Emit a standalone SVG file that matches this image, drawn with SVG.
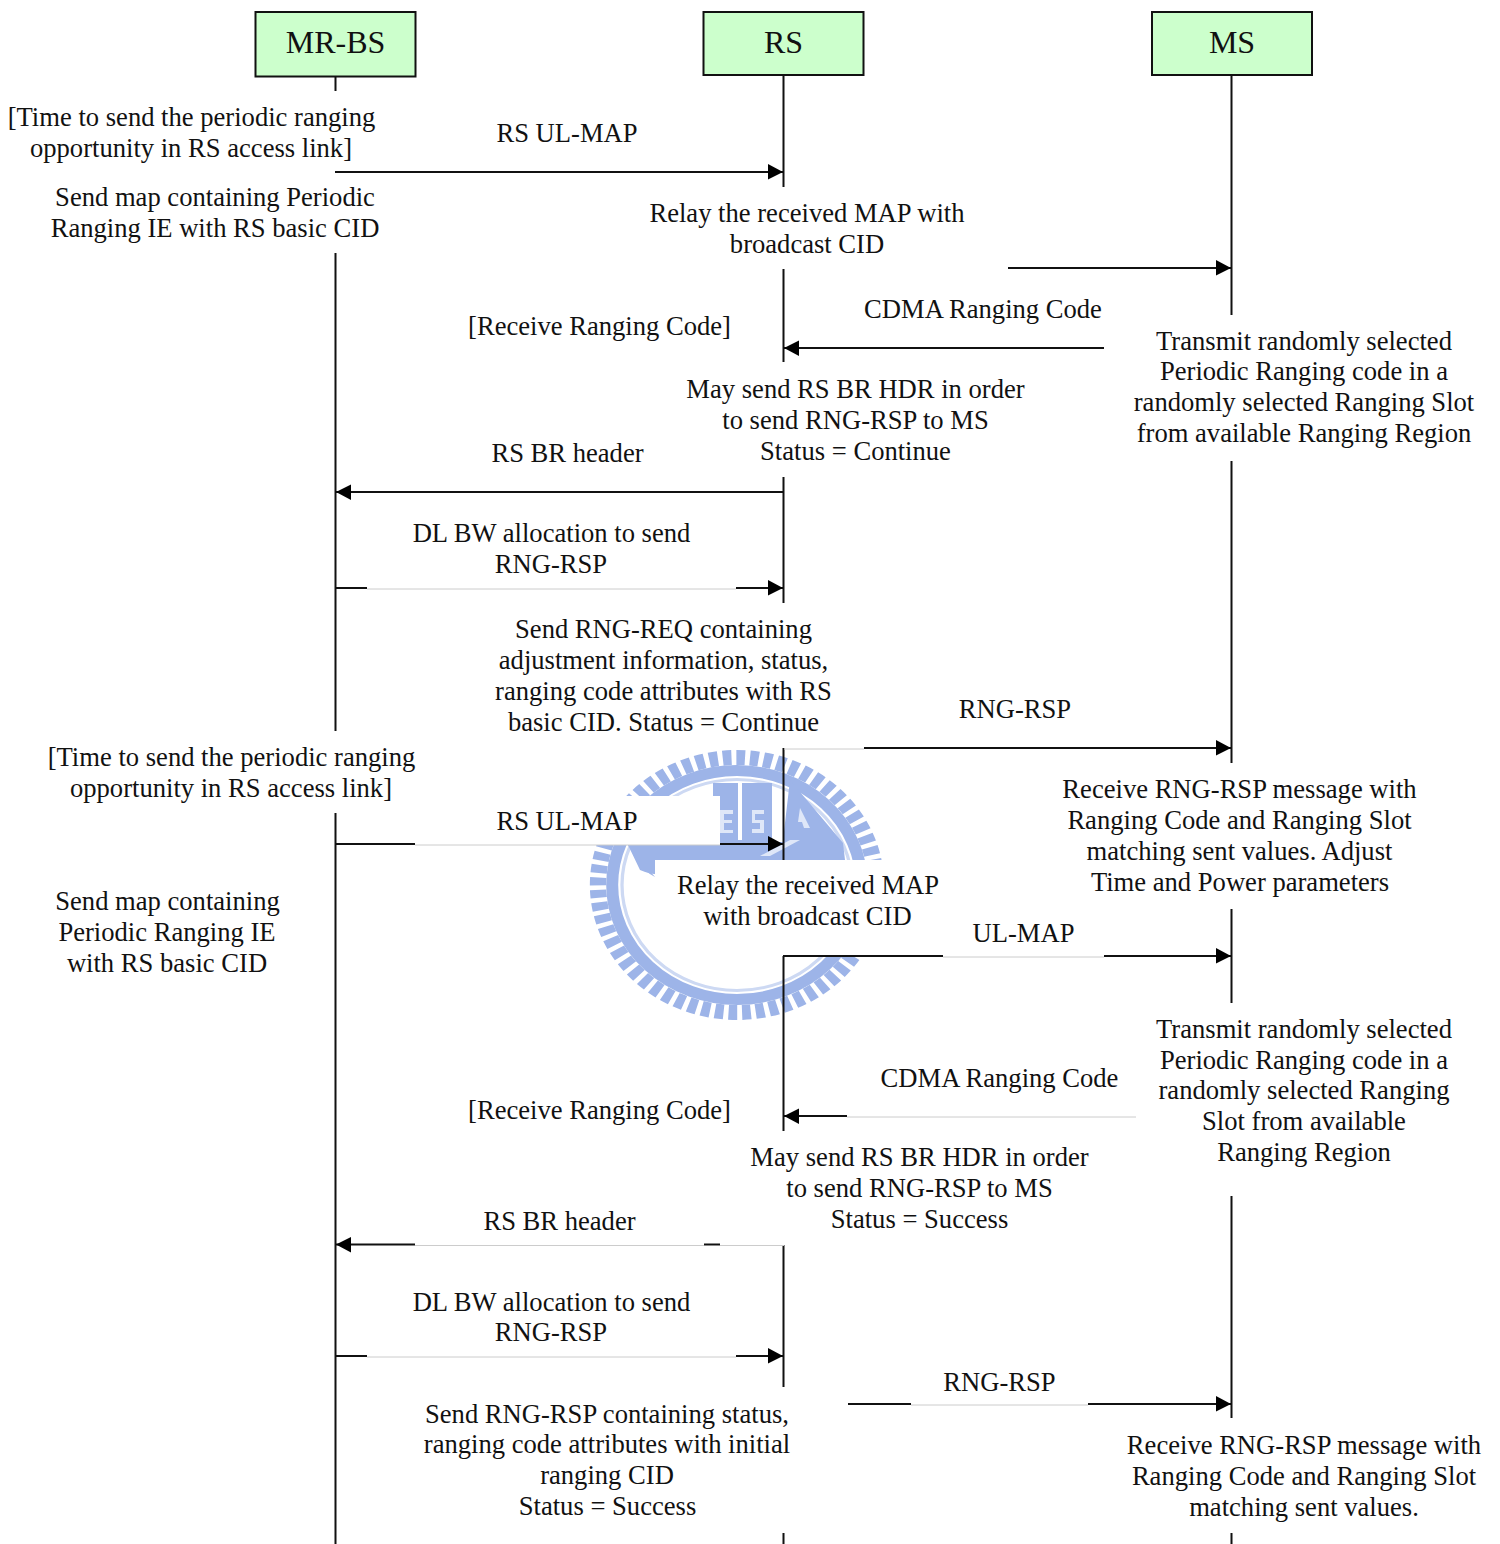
<svg xmlns="http://www.w3.org/2000/svg" width="1500" height="1544" viewBox="0 0 1500 1544">
<style>
text{font-family:"Liberation Serif","Times New Roman",serif;font-size:26.6px;fill:#111;text-anchor:middle}
.h{font-size:32px}
.box{fill:#ccffcc;stroke:#111;stroke-width:2}
.l{stroke:#111;stroke-width:2;fill:none}
.g{stroke:#ccc;stroke-width:1;fill:none}
.w{fill:#fff}
.wm{fill:#9db4e8}
.wl{fill:#dfe7f8}
</style>
<defs>
<marker id="a" markerUnits="userSpaceOnUse" markerWidth="16" markerHeight="16" refX="15" refY="8" orient="auto"><path d="M0 0L15 8L0 15.500z" fill="#000"/></marker>
</defs>
<rect width="1500" height="1544" fill="#fff"/>
<g id="watermark">
<g transform="translate(737 885) scale(1.09 1)">
<circle r="127.500" fill="none" stroke="#9db4e8" stroke-width="15" stroke-dasharray="8 4.500"/>
<circle r="114.500" fill="none" stroke="#9db4e8" stroke-width="11"/>
<circle r="105.500" fill="none" stroke="#cdd9f3" stroke-width="3"/>
</g>
<path class="wm" d="M628 845H713V783H738V840H742V783H772V840H783L790 780L843 843L845 860H640Q644 872 655 877Z"/>
<path class="wm" d="M628 845H800V860H700Q665 882 640 870Z"/>
<path class="wl" d="M720 810h13v4h-9v6h8v3h-8v7h9v3h-13zM752 810h12v4h-9v6h9v13h-12v-4h8v-6h-8z"/>
<path class="w" d="M773 805L784 842H773Z"/>
<path class="wl" d="M790 840H800L770 856H760Z"/>
<path class="wl" d="M800 808L810 828L804 828L802 822L798 822Z"/>
<rect class="w" x="415" y="796" width="305" height="49"/>
<rect class="w" x="655" y="860" width="345" height="96"/>
<rect class="w" x="560" y="700" width="340" height="48.500"/>
</g>
<g id="connectors">
<path class="l" d="M335.500 77V91M335.500 253V731M335.500 813V1544"/>
<path class="l" d="M783.500 75V187M783.500 269V362M783.500 477V603M783.500 748V860M783.500 956V1131M783.500 1245V1387M783.500 1533V1544"/>
<path class="l" d="M1231.500 75V315M1231.500 461V763M1231.500 909V1003M1231.500 1196V1418M1231.500 1533V1544"/>
<path class="l" d="M335 172H783" marker-end="url(#a)"/>
<path class="l" d="M1008 268H1231" marker-end="url(#a)"/>
<path class="l" d="M1104 348H784" marker-end="url(#a)"/>
<path class="l" d="M783 492H336" marker-end="url(#a)"/>
<path class="l" d="M335 588H367"/><path class="g" d="M367 589H736"/><path class="l" d="M736 588H783" marker-end="url(#a)"/>
<path class="g" d="M784 749H864"/><path class="l" d="M864 748H1231" marker-end="url(#a)"/>
<path class="l" d="M335 844H415"/><path class="g" d="M415 845H720"/><path class="l" d="M720 844H783" marker-end="url(#a)"/>
<path class="l" d="M783 956H943"/><path class="g" d="M943 957H1104"/><path class="l" d="M1104 956H1231" marker-end="url(#a)"/>
<path class="g" d="M847 1117H1136"/><path class="l" d="M847 1116H784" marker-end="url(#a)"/>
<path class="g" d="M720 1245.500H784"/><path class="l" d="M704 1244.500H720"/><path class="g" d="M415 1245.500H704"/><path class="l" d="M415 1244.500H336" marker-end="url(#a)"/>
<path class="l" d="M335 1356H367"/><path class="g" d="M367 1357H736"/><path class="l" d="M736 1356H783" marker-end="url(#a)"/>
<path class="l" d="M848 1404H911"/><path class="g" d="M911 1405H1088"/><path class="l" d="M1088 1404H1231" marker-end="url(#a)"/>
</g>
<g id="mr-bs"><rect class="box" x="255.500" y="12" width="160" height="64.500"/><text class="h" x="335.500" y="53">MR-BS</text></g>
<g id="rs"><rect class="box" x="703.500" y="12" width="160" height="63"/><text class="h" x="783.500" y="53">RS</text></g>
<g id="ms"><rect class="box" x="1152" y="12" width="160" height="63"/><text class="h" x="1232" y="53">MS</text></g>
<g id="labels">
<text x="191.500" y="126">[Time to send the periodic ranging</text>
<text x="191" y="157">opportunity in RS access link]</text>
<text x="567" y="142">RS UL-MAP</text>
<text x="215" y="206">Send map containing Periodic</text>
<text x="215" y="237">Ranging IE with RS basic CID</text>
<text x="807" y="222">Relay the received MAP with</text>
<text x="807" y="253">broadcast CID</text>
<text x="983" y="318">CDMA Ranging Code</text>
<text x="599.500" y="335">[Receive Ranging Code]</text>
<text x="1304" y="350">Transmit randomly selected</text>
<text x="1304" y="380">Periodic Ranging code in a</text>
<text x="1304" y="411">randomly selected Ranging Slot</text>
<text x="1304" y="442">from available Ranging Region</text>
<text x="855.500" y="398">May send RS BR HDR in order</text>
<text x="855.500" y="429">to send RNG-RSP to MS</text>
<text x="855.500" y="460">Status = Continue</text>
<text x="567.500" y="462">RS BR header</text>
<text x="551.500" y="542">DL BW allocation to send</text>
<text x="551" y="573">RNG-RSP</text>
<text x="663.500" y="638">Send RNG-REQ containing</text>
<text x="663.500" y="669">adjustment information, status,</text>
<text x="663.500" y="700">ranging code attributes with RS</text>
<text x="663.500" y="731">basic CID. Status = Continue</text>
<text x="1015" y="718">RNG-RSP</text>
<text x="231.500" y="766">[Time to send the periodic ranging</text>
<text x="231" y="797">opportunity in RS access link]</text>
<text x="567" y="830">RS UL-MAP</text>
<text x="1239.500" y="798">Receive RNG-RSP message with</text>
<text x="1239.500" y="829">Ranging Code and Ranging Slot</text>
<text x="1239.500" y="860">matching sent values. Adjust</text>
<text x="1240" y="891">Time and Power parameters</text>
<text x="808" y="894">Relay the received MAP</text>
<text x="807.500" y="925">with broadcast CID</text>
<text x="167.500" y="910">Send map containing</text>
<text x="167" y="941">Periodic Ranging IE</text>
<text x="167" y="972">with RS basic CID</text>
<text x="1023.500" y="942">UL-MAP</text>
<text x="1304" y="1038">Transmit randomly selected</text>
<text x="1304" y="1069">Periodic Ranging code in a</text>
<text x="1304" y="1099">randomly selected Ranging</text>
<text x="1304" y="1130">Slot from available</text>
<text x="1304" y="1161">Ranging Region</text>
<text x="999.500" y="1087">CDMA Ranging Code</text>
<text x="599.500" y="1119">[Receive Ranging Code]</text>
<text x="919.500" y="1166">May send RS BR HDR in order</text>
<text x="919.500" y="1197">to send RNG-RSP to MS</text>
<text x="919.500" y="1228">Status = Success</text>
<text x="559.500" y="1230">RS BR header</text>
<text x="551.500" y="1311">DL BW allocation to send</text>
<text x="551" y="1341">RNG-RSP</text>
<text x="999.500" y="1391">RNG-RSP</text>
<text x="607" y="1423">Send RNG-RSP containing status,</text>
<text x="607" y="1453">ranging code attributes with initial</text>
<text x="607" y="1484">ranging CID</text>
<text x="607.500" y="1515">Status = Success</text>
<text x="1304" y="1454">Receive RNG-RSP message with</text>
<text x="1304" y="1485">Ranging Code and Ranging Slot</text>
<text x="1304" y="1516">matching sent values.</text>
</g>
</svg>
